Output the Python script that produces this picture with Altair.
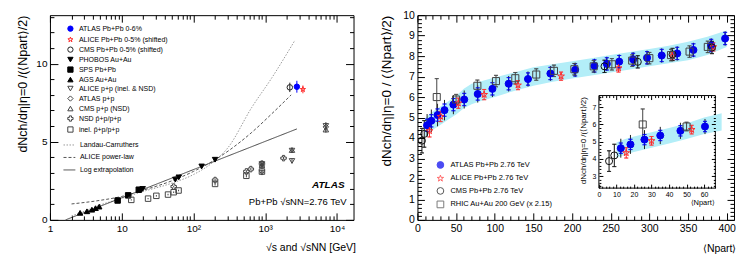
import altair as alt
import pandas as pd

FONT = "Liberation Sans"
STAR = ("M0,-1L0.2245,-0.309L0.9511,-0.309L0.3633,0.118L0.5878,0.809L0,0.382"
        "L-0.5878,0.809L-0.3633,0.118L-0.9511,-0.309L-0.2245,-0.309Z")

# ======================= LEFT PANEL DATA (sqrt(s) dependence) =======================
L_SERIES = ["ATLAS Pb+Pb 0-6%", "ALICE Pb+Pb 0-5% (shifted)", "CMS Pb+Pb 0-5% (shifted)",
            "PHOBOS Au+Au", "SPS Pb+Pb", "AGS Au+Au", "ALICE p+p (inel. & NSD)",
            "ATLAS p+p", "CMS p+p (NSD)", "NSD p\u0304+p/p+p", "inel. p\u0304+p/p+p"]
L_SHAPES = ["circle", STAR, "circle", "triangle-down", "square", "triangle-up",
            "triangle-down", "diamond", "triangle-up", "cross", "square"]
L_STROKE = ["#0000ff", "#ff2a2a", "#222222", "#000000", "#000000", "#000000",
            "#444444", "#444444", "#444444", "#444444", "#444444"]
L_FILL = ["#0000ff", "transparent", "transparent", "#000000", "#000000", "#000000",
          "transparent", "transparent", "transparent", "transparent", "transparent"]

atlas_pbpb_x = [2760];  atlas_pbpb_y = [8.52];  atlas_pbpb_e = [0.38]
alice_pbpb_x = [3350];  alice_pbpb_y = [8.35];  alice_pbpb_e = [0.25]
cms_pbpb_x = [2200];    cms_pbpb_y = [8.48];    cms_pbpb_e = [0.3]
phobos_x = [19.6, 55.9, 62.4, 130, 200]
phobos_y = [1.98, 2.58, 2.72, 3.42, 3.85]
phobos_e = [0.08, 0.1, 0.1, 0.12, 0.12]
sps_x = [8.77, 12.3, 17.3]
sps_y = [1.24, 1.57, 1.93]
sps_e = [0.05, 0.06, 0.07]
ags_x = [2.63, 3.28, 3.84, 4.32, 4.86]
ags_y = [0.45, 0.55, 0.65, 0.75, 0.85]
ags_e = [0.03, 0.03, 0.03, 0.03, 0.03]
alice_pp_x = [900, 900, 2360, 2360, 7000]
alice_pp_y = [3.02, 3.58, 3.77, 4.43, 6.01]
alice_pp_e = [0.1, 0.12, 0.15, 0.15, 0.2]
atlas_pp_x = [900, 7000]
atlas_pp_y = [3.45, 5.95]
atlas_pp_e = [0.15, 0.3]
cms_pp_x = [900, 2360, 7000]
cms_pp_y = [3.48, 4.47, 5.78]
cms_pp_e = [0.13, 0.15, 0.2]
nsd_x = [53, 200, 546, 630, 900, 1800]
nsd_y = [2.13, 2.55, 3.1, 3.25, 3.6, 3.95]
nsd_e = [0.05, 0.08, 0.08, 0.08, 0.1, 0.1]
inel_x = [13.6, 23.3, 30.4, 44.2, 53, 62, 200, 546, 900]
inel_y = [1.28, 1.36, 1.54, 1.62, 1.77, 1.88, 2.3, 2.82, 3.09]
inel_e = [0.04, 0.04, 0.05, 0.05, 0.05, 0.05, 0.1, 0.1, 0.1]

L_DATA = [(atlas_pbpb_x, atlas_pbpb_y, atlas_pbpb_e), (alice_pbpb_x, alice_pbpb_y, alice_pbpb_e),
          (cms_pbpb_x, cms_pbpb_y, cms_pbpb_e), (phobos_x, phobos_y, phobos_e),
          (sps_x, sps_y, sps_e), (ags_x, ags_y, ags_e), (alice_pp_x, alice_pp_y, alice_pp_e),
          (atlas_pp_x, atlas_pp_y, atlas_pp_e), (cms_pp_x, cms_pp_y, cms_pp_e),
          (nsd_x, nsd_y, nsd_e), (inel_x, inel_y, inel_e)]

# model curves
L_MODELS = ["Landau-Carruthers", "ALICE power-law", "Log extrapolation"]
L_MODEL_COLORS = ["#9a9a9a", "#555555", "#444444"]
L_MODEL_DASH = [[1.5, 1.5], [3, 2], [1, 0]]
landau_x = [2.0, 3, 5, 10, 20, 50, 100, 200, 300, 650, 1240, 2600]
landau_y = [0.25, 0.55, 0.95, 1.38, 1.82, 2.35, 2.9, 3.8, 4.6, 7.2, 9.1, 11.5]
power_x = [2.0, 5, 10, 20, 50, 100, 200, 325, 650, 1240, 2300]
power_y = [1.02, 1.25, 1.5, 1.9, 2.5, 3.1, 3.85, 4.5, 5.6, 6.8, 8.0]
logext_x = [1.65, 2760]
logext_y = [0.0, 5.82]

# ======================= RIGHT PANEL DATA (Npart dependence) =======================
R_SERIES = ["ATLAS Pb+Pb 2.76 TeV", "ALICE Pb+Pb 2.76 TeV", "CMS Pb+Pb 2.76 TeV",
            "RHIC Au+Au 200 GeV (x 2.15)"]
R_SHAPES = ["circle", STAR, "circle", "square"]
R_STROKE = ["#0000ee", "#ff2a2a", "#111111", "#444444"]
R_FILL = ["#0000ee", "transparent", "transparent", "transparent"]

atlas_npart = [12.5, 18, 26, 35, 46.5, 60.5, 78, 97, 118, 143, 172, 204, 229, 245, 261,
               279, 297, 316, 336, 357, 380, 398]
atlas_val = [4.62, 4.84, 5.12, 5.36, 5.63, 5.88, 6.15, 6.4, 6.65, 6.88, 7.15, 7.33, 7.52,
             7.62, 7.73, 7.84, 7.92, 8.03, 8.13, 8.3, 8.52, 8.86]
atlas_stat = [0.3] * 22
atlas_tot = [0.55, 0.55, 0.55, 0.5, 0.47, 0.44, 0.42, 0.4, 0.38, 0.37, 0.36, 0.35, 0.35,
             0.35, 0.35, 0.35, 0.35, 0.35, 0.35, 0.35, 0.35, 0.35]
alice_npart = [15.6, 30, 52.9, 86.3, 130.1, 185.8, 260.1, 329.7, 382.7]
alice_val = [4.35, 5.05, 5.7, 6.12, 6.58, 7.02, 7.42, 8.0, 8.45]
alice_err = [0.3, 0.25, 0.25, 0.25, 0.22, 0.2, 0.2, 0.2, 0.2]
cms_npart = [5.8, 8.8, 242, 285, 330, 381]
cms_val = [3.87, 4.2, 7.5, 7.72, 8.08, 8.42]
cms_err = [0.6, 0.65, 0.3, 0.3, 0.3, 0.3]
rhic_npart = [25, 50, 77.5, 101.6, 126.6, 153.7, 176.6, 203, 228, 251.5, 277.8, 300, 328,
              352, 375.6]
rhic_val = [6.0, 5.88, 6.55, 6.78, 6.92, 7.1, 7.28, 7.36, 7.5, 7.6, 7.78, 7.9, 8.05, 8.22,
            8.45]
rhic_err = [0.9, 0.25, 0.28, 0.28, 0.28, 0.28, 0.28, 0.28, 0.28, 0.28, 0.28, 0.28, 0.28,
            0.28, 0.28]

R_DATA = [(atlas_npart, atlas_val, atlas_stat), (alice_npart, alice_val, alice_err),
          (cms_npart, cms_val, cms_err), (rhic_npart, rhic_val, rhic_err)]

band_npart = [10, 15, 20, 30, 40, 50, 60, 70, 80, 100, 125, 150, 175, 200, 225, 250, 275,
              300, 325, 350, 375, 400]
band_lo = [4.05, 4.25, 4.4, 4.65, 4.9, 5.15, 5.45, 5.65, 5.78, 6.0, 6.3, 6.55, 6.75, 6.9,
           7.05, 7.2, 7.35, 7.5, 7.65, 7.8, 8.05, 8.45]
band_hi = [4.95, 5.15, 5.3, 5.55, 5.8, 6.05, 6.4, 6.65, 6.75, 6.95, 7.2, 7.45, 7.6, 7.75,
           7.9, 8.05, 8.2, 8.35, 8.5, 8.7, 8.95, 9.25]

INSET_XDOM = [0, 66.4]
INSET_YDOM = [2.3, 7.68]

# ======================= tables =======================
def points_table(names, data):
    rows = []
    for name, (xs, ys, es) in zip(names, data):
        for x, y, e in zip(xs, ys, es):
            rows.append({"series": name, "x": x, "y": y, "lo": y - e, "hi": y + e})
    return pd.DataFrame(rows)

left_pts = points_table(L_SERIES, L_DATA)
left_lines = pd.concat([
    pd.DataFrame({"model": L_MODELS[0], "x": landau_x, "y": landau_y}),
    pd.DataFrame({"model": L_MODELS[1], "x": power_x, "y": power_y}),
    pd.DataFrame({"model": L_MODELS[2], "x": logext_x, "y": logext_y}),
])
right_pts = points_table(R_SERIES, R_DATA)
atlas_tot_df = pd.DataFrame({"x": atlas_npart,
                             "lo": [v - e for v, e in zip(atlas_val, atlas_tot)],
                             "hi": [v + e for v, e in zip(atlas_val, atlas_tot)]})
band_df = pd.DataFrame({"x": band_npart, "lo": band_lo, "hi": band_hi})
frame_df = pd.DataFrame({"x0": [INSET_XDOM[0]], "x1": [INSET_XDOM[1]],
                         "y0": [INSET_YDOM[0]], "y1": [INSET_YDOM[1]]})


def tick_cond(test, major, minor):
    return {"condition": {"test": test, "value": major}, "value": minor}


INT_TEST = "abs(datum.value - round(datum.value)) < 0.001"
AX = dict(domain=False, grid=False, zindex=1, labelFont=FONT, titleFont=FONT,
          labelOverlap=False, labelFlush=False)


def label_axis(orient, values, fs, pad, title, title_fs, tx, ty, label_expr=None,
               offset=0, rotated=False):
    kw = dict(AX, orient=orient, values=values, ticks=False, tickSize=0, labelFontSize=fs,
              labelPadding=pad, title=title, titleFontSize=title_fs, titleAnchor="end",
              titleAlign="right", titleBaseline="middle", titleX=tx, titleY=ty, offset=offset)
    if rotated:
        kw["titleAngle"] = -90
    if label_expr:
        kw["labelExpr"] = label_expr
    return alt.Axis(**kw)


def tick_axis(orient, offset, values, test, major, minor):
    return alt.Axis(**AX, orient=orient, offset=offset, values=values, labels=False,
                    title=None, tickSize=tick_cond(test, major, minor), tickWidth=1,
                    tickColor="black")


# ======================= LEFT CHART =======================
LW, LH = 304, 205
LX_TICKS = [m * 10 ** k for k in range(5) for m in range(1, 10) if m * 10 ** k <= 17000]
LX_MAJOR = "indexof([1,10,100,1000,10000], datum.value) >= 0"
lx_lab = label_axis("bottom", [1, 10, 100, 1000, 10000], 10, 4,
                    "\u221as and \u221asNN [GeV]", 10.5, LW + 2, 28,
                    label_expr="datum.value == 1 ? '1' : datum.value == 10 ? '10' : "
                               "datum.value == 100 ? '10\u00b2' : datum.value == 1000 ? "
                               "'10\u00b3' : '10\u2074'")
ly_lab = label_axis("left", [0, 5, 10], 10, 3,
                    "dNch/d\u03b7|\u03b7=0  /(\u27e8Npart\u27e9/2)", 12.5, -27, 0, rotated=True)
lx_t1 = tick_axis("top", -LH, LX_TICKS, LX_MAJOR, 7, 4)
lx_t2 = tick_axis("bottom", -LH, LX_TICKS, LX_MAJOR, 7, 4)
ly_t1 = tick_axis("right", -LW, list(range(14)), "datum.value % 5 == 0", 8, 4)
ly_t2 = tick_axis("left", -LW, list(range(14)), "datum.value % 5 == 0", 8, 4)

LXS = alt.Scale(type="log", domain=[1, 17000], nice=False)
LYS = alt.Scale(domain=[0, 13.1], nice=False, zero=False)

l_lines = alt.Chart(left_lines).mark_line(strokeWidth=1, interpolate="monotone").encode(
    x=alt.X("x:Q", scale=LXS, axis=lx_lab), y=alt.Y("y:Q", scale=LYS, axis=ly_lab),
    color=alt.Color("model:N", scale=alt.Scale(domain=L_MODELS, range=L_MODEL_COLORS),
                    legend=alt.Legend(title=None, orient="none", legendX=13, legendY=123.5,
                                      symbolType="stroke", symbolSize=140,
                                      symbolStrokeWidth=1, labelFont=FONT, labelFontSize=7,
                                      labelOffset=4, rowPadding=2.5, padding=0)),
    strokeDash=alt.StrokeDash("model:N", scale=alt.Scale(domain=L_MODELS, range=L_MODEL_DASH),
                              legend=alt.Legend(title=None, orient="none", legendX=13,
                                                legendY=123.5)),
    detail="model:N")

l_err = alt.Chart(left_pts).mark_rule(strokeWidth=1).encode(
    x=alt.X("x:Q", scale=LXS, axis=lx_t1), y=alt.Y("lo:Q", scale=LYS, axis=ly_t1), y2="hi:Q",
    stroke=alt.Stroke("series:N", scale=alt.Scale(domain=L_SERIES, range=L_STROKE)))

left_legend = alt.Legend(title=None, orient="none", legendX=17, legendY=10, labelFont=FONT,
                         labelFontSize=7, symbolSize=28, symbolStrokeWidth=1, rowPadding=0,
                         labelOffset=5, padding=0)
l_pts = alt.Chart(left_pts).mark_point(size=30, strokeWidth=1, opacity=1).encode(
    x=alt.X("x:Q", scale=LXS, axis=lx_t2), y=alt.Y("y:Q", scale=LYS, axis=ly_t2),
    shape=alt.Shape("series:N", scale=alt.Scale(domain=L_SERIES, range=L_SHAPES), legend=left_legend),
    stroke=alt.Stroke("series:N", scale=alt.Scale(domain=L_SERIES, range=L_STROKE), legend=left_legend),
    fill=alt.Fill("series:N", scale=alt.Scale(domain=L_SERIES, range=L_FILL), legend=left_legend))

l_atlas = alt.Chart(pd.DataFrame({"t": ["ATLAS"]})).mark_text(
    font=FONT, fontSize=10, fontWeight="bold", fontStyle="italic", align="right",
    baseline="middle").encode(text="t:N", x=alt.value(295), y=alt.value(170))
l_sys = alt.Chart(pd.DataFrame({"t": ["Pb+Pb  \u221asNN=2.76 TeV"]})).mark_text(
    font=FONT, fontSize=9.5, align="right", baseline="middle").encode(
    text="t:N", x=alt.value(297), y=alt.value(187))

left_chart = alt.layer(l_lines, l_err, l_pts, l_atlas, l_sys).resolve_axis(
    x="independent", y="independent").properties(width=LW, height=LH)

# ======================= RIGHT CHART =======================
RW, RH = 317, 205
RX_TICKS = list(range(0, 410, 10))
RY_TICKS = [round(i * 0.2, 1) for i in range(51)]
rx_lab = label_axis("bottom", list(range(0, 401, 50)), 10.5, 4, "\u27e8Npart\u27e9", 10.5,
                    RW + 2, 29)
ry_lab = label_axis("left", list(range(0, 11)), 10.5, 3,
                    "dNch/d\u03b7|\u03b7=0  /  (\u27e8Npart\u27e9/2)", 13.5, -31, 0, rotated=True)
rx_t1 = tick_axis("top", -RH, RX_TICKS, "datum.value % 50 == 0", 7, 4)
rx_t2 = tick_axis("bottom", -RH, RX_TICKS, "datum.value % 50 == 0", 7, 4)
ry_t1 = tick_axis("right", -RW, RY_TICKS, INT_TEST, 7, 4)
ry_t2 = tick_axis("left", -RW, RY_TICKS, INT_TEST, 7, 4)
RXS = alt.Scale(domain=[0, 409.5], nice=False, zero=False)
RYS = alt.Scale(domain=[0, 10], nice=False, zero=False)

R_SHAPE_SCALE = alt.Scale(domain=R_SERIES, range=R_SHAPES)
R_STROKE_SCALE = alt.Scale(domain=R_SERIES, range=R_STROKE)
R_FILL_SCALE = alt.Scale(domain=R_SERIES, range=R_FILL)
right_legend = alt.Legend(title=None, orient="none", legendX=19, legendY=146, labelFont=FONT,
                          labelFontSize=7.5, symbolSize=45, symbolStrokeWidth=1,
                          rowPadding=1.5, labelOffset=6, padding=0)

r_band = alt.Chart(band_df).mark_area(color="#b3eef8", opacity=1).encode(
    x=alt.X("x:Q", scale=RXS, axis=rx_lab), y=alt.Y("lo:Q", scale=RYS, axis=ry_lab), y2="hi:Q")
r_tot = alt.Chart(atlas_tot_df).mark_rule(color="#222222", strokeWidth=1).encode(
    x=alt.X("x:Q", scale=RXS, axis=rx_t1), y=alt.Y("lo:Q", scale=RYS, axis=ry_t1), y2="hi:Q")
r_err = alt.Chart(right_pts).mark_rule(strokeWidth=1).encode(
    x=alt.X("x:Q", scale=RXS, axis=rx_t2), y=alt.Y("lo:Q", scale=RYS, axis=ry_t2), y2="hi:Q",
    stroke=alt.Stroke("series:N", scale=R_STROKE_SCALE))
r_caps = alt.Chart(right_pts).transform_fold(["lo", "hi"], as_=["end", "v"]).mark_tick(
    orient="horizontal", size=4, thickness=0.01, filled=False, strokeWidth=1).encode(
    x=alt.X("x:Q", scale=RXS, axis=None), y=alt.Y("v:Q", scale=RYS, axis=None),
    stroke=alt.Stroke("series:N", scale=R_STROKE_SCALE))
r_pts = alt.Chart(right_pts).mark_point(size=50, strokeWidth=1, opacity=1).encode(
    x=alt.X("x:Q", scale=RXS, axis=None), y=alt.Y("y:Q", scale=RYS, axis=None),
    shape=alt.Shape("series:N", scale=R_SHAPE_SCALE, legend=right_legend),
    stroke=alt.Stroke("series:N", scale=R_STROKE_SCALE, legend=right_legend),
    fill=alt.Fill("series:N", scale=R_FILL_SCALE, legend=right_legend))
right_main = alt.layer(r_band, r_tot, r_err, r_caps, r_pts).resolve_axis(
    x="independent", y="independent")

# ---------- inset ----------
IX0, IX1, IY0, IY1 = 181.7, 298.3, 173.2, 80.5
IXS = alt.Scale(domain=INSET_XDOM, range=[IX0, IX1], nice=False, zero=False)
IYS = alt.Scale(domain=INSET_YDOM, range=[IY0, IY1], nice=False, zero=False)
IX_TICKS = list(range(0, 67, 2))
IY_TICKS = [round(2.4 + 0.2 * i, 1) for i in range(27)]
ix_lab = label_axis("bottom", list(range(0, 61, 10)), 7, 2, "\u27e8Npart\u27e9", 7.5,
                    IX1 - 1, 14, offset=IY0 - RH)
iy_lab = label_axis("left", [3, 4, 5, 6, 7], 7, 3,
                    "dNch/d\u03b7|\u03b7=0 /(\u27e8Npart\u27e9/2)", 8, -15, IY1 + 1,
                    offset=-IX0, rotated=True)
ix_t1 = tick_axis("top", -IY0, IX_TICKS, "datum.value % 10 == 0", 4, 2)
ix_t2 = tick_axis("bottom", IY1 - RH, IX_TICKS, "datum.value % 10 == 0", 4, 2)
iy_t1 = tick_axis("right", IX0 - RW, IY_TICKS, INT_TEST, 4, 2)
iy_t2 = tick_axis("left", -IX1, IY_TICKS, INT_TEST, 4, 2)

INSET_FILTER = alt.datum.x <= INSET_XDOM[1]
i_frame = alt.Chart(frame_df).mark_rect(fill="white", stroke="black", strokeWidth=1).encode(
    x=alt.X("x0:Q", scale=IXS, axis=ix_lab), x2="x1:Q",
    y=alt.Y("y0:Q", scale=IYS, axis=iy_lab), y2="y1:Q")
i_band = alt.Chart(band_df).mark_area(color="#b3eef8", opacity=1, clip=True).encode(
    x=alt.X("x:Q", scale=IXS, axis=ix_t1), y=alt.Y("lo:Q", scale=IYS, axis=iy_t1),
    y2="hi:Q").transform_filter(alt.datum.x <= 70)
i_tot = alt.Chart(atlas_tot_df).mark_rule(color="#222222", strokeWidth=1).encode(
    x=alt.X("x:Q", scale=IXS, axis=ix_t2), y=alt.Y("lo:Q", scale=IYS, axis=iy_t2),
    y2="hi:Q").transform_filter(INSET_FILTER)
i_err = alt.Chart(right_pts).mark_rule(strokeWidth=1).encode(
    x=alt.X("x:Q", scale=IXS, axis=None), y=alt.Y("lo:Q", scale=IYS, axis=None), y2="hi:Q",
    stroke=alt.Stroke("series:N", scale=R_STROKE_SCALE)).transform_filter(INSET_FILTER)
i_caps = alt.Chart(right_pts).transform_filter(INSET_FILTER).transform_fold(
    ["lo", "hi"], as_=["end", "v"]).mark_tick(
    orient="horizontal", size=4, thickness=0.01, filled=False, strokeWidth=1).encode(
    x=alt.X("x:Q", scale=IXS, axis=None), y=alt.Y("v:Q", scale=IYS, axis=None),
    stroke=alt.Stroke("series:N", scale=R_STROKE_SCALE))
i_pts = alt.Chart(right_pts).mark_point(size=50, strokeWidth=1, opacity=1).encode(
    x=alt.X("x:Q", scale=IXS, axis=None), y=alt.Y("y:Q", scale=IYS, axis=None),
    shape=alt.Shape("series:N", scale=R_SHAPE_SCALE),
    stroke=alt.Stroke("series:N", scale=R_STROKE_SCALE),
    fill=alt.Fill("series:N", scale=R_FILL_SCALE)).transform_filter(INSET_FILTER)
inset = alt.layer(i_frame, i_band, i_tot, i_err, i_caps, i_pts).resolve_axis(
    x="independent", y="independent")

right_chart = alt.layer(right_main, inset).resolve_scale(
    x="independent", y="independent").resolve_axis(x="independent", y="independent").properties(
    width=RW, height=RH)

chart = alt.hconcat(left_chart, right_chart, spacing=64, bounds="flush").resolve_scale(
    shape="independent", stroke="independent", fill="independent", color="independent",
    strokeDash="independent").resolve_legend(
    shape="independent", stroke="independent", fill="independent", color="independent",
    strokeDash="independent").properties(
    padding={"left": 8, "top": 1, "right": 2, "bottom": 2}, background="white"
).configure_view(stroke="black", strokeWidth=1).configure_axis(
    labelColor="black", titleColor="black", titleFontWeight="normal"
).configure_legend(labelFont=FONT, labelColor="black")

chart.save("out.html", embed_options={"renderer": "svg", "actions": False})
